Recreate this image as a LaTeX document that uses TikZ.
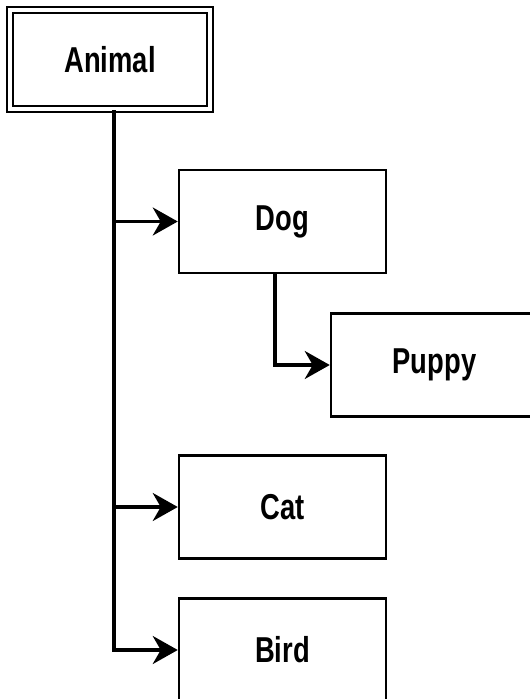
\documentclass[tikz,border=0pt]{standalone}
\usepackage{fontspec}
\newfontfamily\lab[FakeStretch=0.76]{Liberation Sans}
\usetikzlibrary{arrows.meta}
\begin{document}
\begin{tikzpicture}[x=1pt,y=-1pt,
  box/.style={draw,line width=2.5pt,minimum width=207pt,minimum height=103pt,inner sep=0pt,
    font=\lab\bfseries\fontsize{36}{40}\selectfont},
  rootbox/.style={box,line width=2.2pt,double,double distance=4pt,minimum width=200pt,minimum height=99pt},
  conn/.style={line width=3.4pt,-{Stealth[length=25pt,width=28pt,inset=8pt]}}]
\useasboundingbox (0,0) rectangle (530,699);
\clip (0,0) rectangle (530,699);
\node[rootbox] (animal) at (110,59.5) {Animal};
\node[box] (dog) at (282.5,221.5) {Dog};
\node[box] (puppy) at (434.5,365) {Puppy};
\node[box] (cat) at (282.5,507) {Cat};
\node[box] (bird) at (282.5,650) {Bird};
\coordinate (trunk) at ([xshift=4pt]animal.south);
\coordinate (dogtrunk) at ([xshift=-7.5pt]dog.south);
\draw[conn] (trunk) |- (dog.west);
\draw[conn] (trunk) |- (cat.west);
\draw[conn] (trunk) |- (bird.west);
\draw[conn] (dogtrunk) |- (puppy.west);
\end{tikzpicture}
\end{document}
